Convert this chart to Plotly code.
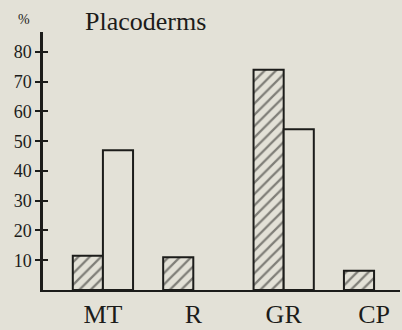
import plotly.graph_objects as go

# Percentage of placoderm occurrences per category
categories = ["MT", "R", "GR", "CP"]
hatched_values = [11.5, 11, 74, 6.5]
open_values = [47, None, 54, None]
y_ticks = [10, 20, 30, 40, 50, 60, 70, 80]

ink = "#1c1c1a"
paper = "#e3e1d7"
serif = "Liberation Serif, DejaVu Serif, serif"
y_range = [0, 86.7]

fig = go.Figure()
fig.add_trace(go.Bar(
    x=categories, y=hatched_values,
    marker=dict(color=paper, line=dict(color=ink, width=2),
                pattern=dict(shape="/", size=8, solidity=0.28,
                             fgcolor=ink, bgcolor=paper, fillmode="overlay")),
    showlegend=False,
))
fig.add_trace(go.Bar(
    x=categories, y=open_values,
    marker=dict(color=paper, line=dict(color=ink, width=2)),
    showlegend=False,
))
# A second, transparent subplot over the first one; its y axis carries the
# inner half of the tick marks so that each tick crosses the axis line
fig.add_trace(go.Scatter(x=[0.5], y=[40], xaxis="x2", yaxis="y2", mode="markers",
                         marker=dict(size=1, opacity=0), showlegend=False,
                         hoverinfo="skip"))

fig.update_layout(
    width=402, height=330,
    margin=dict(l=43, r=2, t=32, b=40),
    paper_bgcolor=paper, plot_bgcolor="rgba(0,0,0,0)",
    barmode="group", bargap=1/3, bargroupgap=0,
    font=dict(family=serif, color=ink),
    xaxis=dict(
        type="category", range=[-0.663, 3.287], automargin=False,
        showline=True, linecolor=ink, linewidth=2,
        ticks="", showgrid=False, zeroline=False,
        tickfont=dict(size=26, family=serif, color=ink),
        ticklabelstandoff=0,
    ),
    yaxis=dict(
        range=y_range, tickvals=y_ticks, automargin=False,
        showline=True, linecolor=ink, linewidth=2.5,
        ticks="outside", ticklen=5, tickwidth=1.5, tickcolor=ink,
        showgrid=False, zeroline=False,
        tickfont=dict(size=18, family=serif, color=ink),
    ),
    xaxis2=dict(
        domain=[0, 1], anchor="y2", range=[0, 1], automargin=False,
        showline=False, showticklabels=False, ticks="", showgrid=False,
        zeroline=False,
    ),
    yaxis2=dict(
        domain=[0, 1], anchor="x2", side="left", range=y_range,
        tickvals=y_ticks, automargin=False,
        ticks="inside", ticklen=5, tickwidth=1.5, tickcolor=ink,
        showticklabels=False, showline=False, showgrid=False, zeroline=False,
    ),
    title=dict(text="Placoderms", x=85/402, xanchor="left",
               y=1 - 21/330, yanchor="middle",
               font=dict(size=26, family=serif, color=ink)),
    annotations=[dict(text="%", xref="paper", yref="paper",
                      x=-19/357, y=1 + 12/258,
                      xanchor="center", yanchor="middle", showarrow=False,
                      font=dict(size=14, family=serif, color=ink))],
)

fig.write_html("out.html")
